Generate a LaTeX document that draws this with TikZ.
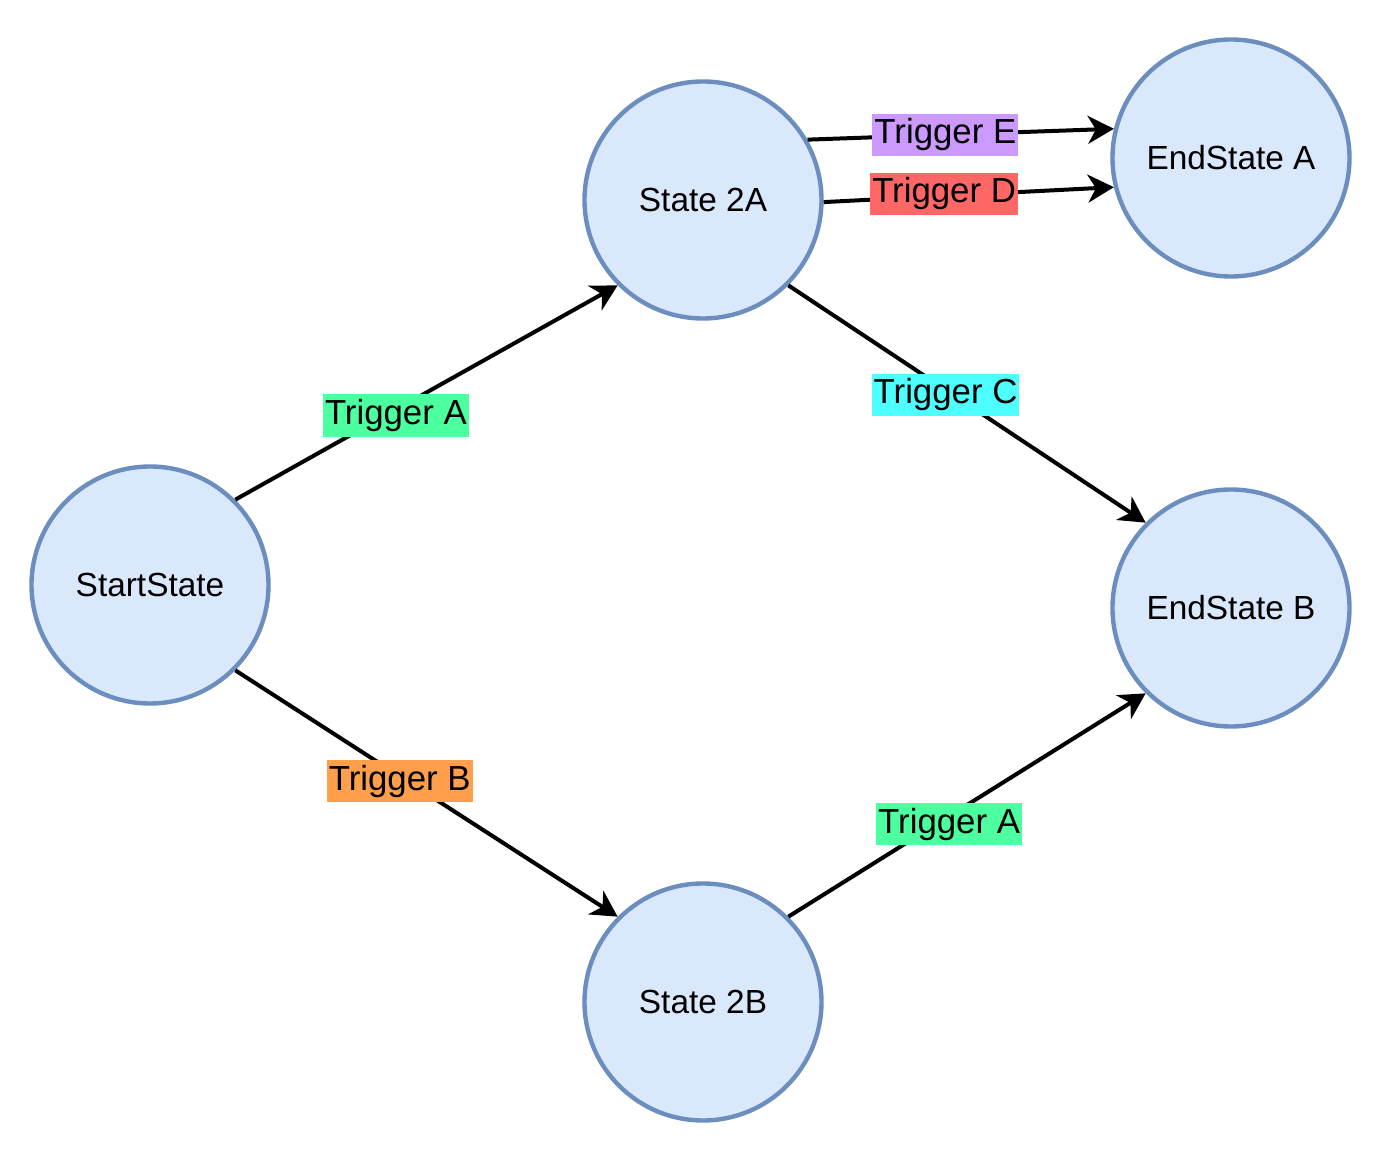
\documentclass[tikz,border=0pt]{standalone}
\usepackage{fontspec}
\setmainfont{Liberation Sans}
\usepackage{tikz}
\usetikzlibrary{arrows.meta}
\definecolor{stateFill}{HTML}{DAE8FC}
\definecolor{stateDraw}{HTML}{6C8EBF}
\definecolor{trigA}{HTML}{4CFF9F}
\definecolor{trigB}{HTML}{FF9F4C}
\definecolor{trigC}{HTML}{4DFFFF}
\definecolor{trigD}{HTML}{FF6666}
\definecolor{trigE}{HTML}{CC99FF}
\tikzset{every picture/.style={line width=2pt, >={Stealth[length=13pt,width=14pt,inset=4pt]}}}
\tikzstyle{state}=[circle,draw=stateDraw,fill=stateFill,line width=2.2pt,minimum size=118.5pt,inner sep=0pt,font=\fontsize{16.7}{19}\selectfont]
\tikzstyle{trig}=[inner xsep=1pt,inner ysep=2.5pt,font=\fontsize{17.4}{20}\selectfont]
\begin{document}
\begin{tikzpicture}[x=0.5pt,y=-0.5pt]
        \useasboundingbox (0,0) rectangle (1394,1154);
        \node [state] (start) at (150,585) {StartState};
        \node [state] (s2a) at (703,200) {State 2A};
        \node [state] (s2b) at (703,1002) {State 2B};
        \node [state] (enda) at (1231,158) {EndState A};
        \node [state] (endb) at (1231,608) {EndState B};
        \path [->] (start.45) edge node [trig,fill=trigA,pos=0.42,yshift=-3pt] {Trigger A} (s2a.225);
        \path [->] (start.-45) edge node [trig,fill=trigB,pos=0.43,yshift=-2.5pt] {Trigger B} (s2b.135);
        \path [->] (s2a.-45) edge node [trig,fill=trigC,pos=0.44,yshift=-2.5pt] {Trigger C} (endb.135);
        \path [->] (s2b.45) edge node [trig,fill=trigA,pos=0.45,yshift=-4pt] {Trigger A} (endb.225);
        \path [->] (s2a.30) edge node [trig,fill=trigE,pos=0.45] {Trigger E} (enda.166);
        \path [->] (s2a.-1) edge node [trig,fill=trigD,pos=0.415,yshift=1pt] {Trigger D} (enda.194.5);
\end{tikzpicture}
\end{document}
